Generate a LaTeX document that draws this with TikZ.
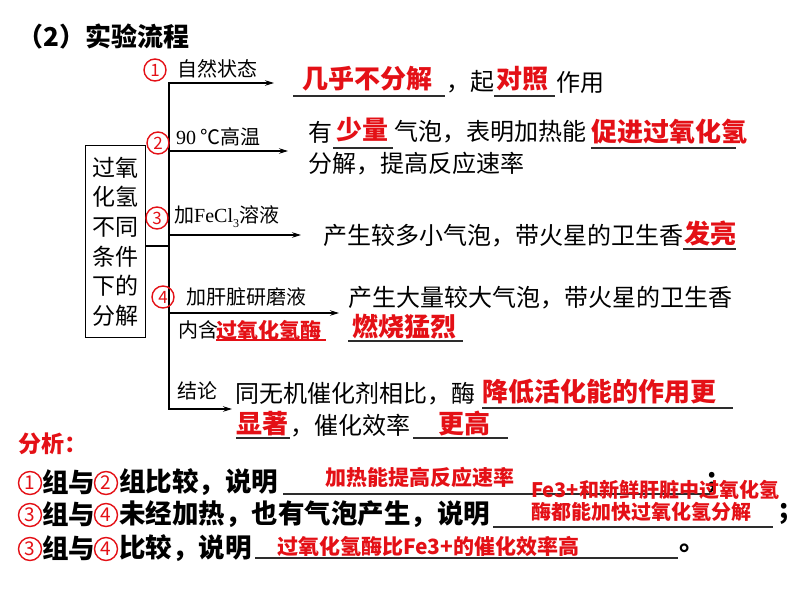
\documentclass[tikz,border=0pt]{standalone}
\usepackage{fontspec}
\setmainfont{Noto Sans CJK SC}
\newfontfamily\latser{Liberation Serif}
\usetikzlibrary{arrows.meta}
\definecolor{ansred}{RGB}{228,16,22}
\definecolor{ulgray}{RGB}{45,45,45}
\tikzset{
 txt/.style={inner sep=0pt, anchor=west, font=\fontsize{24}{28}\selectfont},
 lab/.style={inner sep=0pt, anchor=west, font=\fontsize{20}{24}\selectfont},
 ans/.style={inner sep=0pt, anchor=west, text=ansred, font=\fontsize{26}{30}\selectfont\bfseries},
 ans2/.style={inner sep=0pt, anchor=west, text=ansred, font=\fontsize{21}{25}\selectfont\bfseries},
 ans3/.style={inner sep=0pt, anchor=west, text=ansred, font=\fontsize{20}{24}\selectfont\bfseries},
 big/.style={inner sep=0pt, anchor=west, font=\fontsize{26.5}{30}\selectfont\bfseries},
 num/.style={circle, draw=ansred, line width=1.4pt, minimum size=22pt, inner sep=0pt,
             text=ansred, font=\fontsize{17}{17}\selectfont},
 anum/.style={num, minimum size=23pt, font=\fontsize{19}{19}\selectfont},
 ul/.style={draw=ulgray, line width=1.3pt},
 redul/.style={draw=ansred, line width=1.3pt},
 flow/.style={line width=1.1pt, -{Stealth[length=9pt,width=5.5pt]}},
}
\begin{document}
\begin{tikzpicture}[x=1pt,y=-1pt]
\fill[white] (0,0) rectangle (794,596);
\useasboundingbox (0,0) rectangle (794,596);

% title
\node[big, font=\fontsize{26}{30}\selectfont\bfseries] (title) at (17,37) {（2）实验流程};

% box
\node[draw, line width=1pt, minimum width=60pt, minimum height=191pt, inner sep=0pt,
      align=center, font=\fontsize{23}{29.6}\selectfont] (box) at (115,241.5)
      {过氧\\化氢\\不同\\条件\\下的\\分解};

% trunk and branches
\coordinate (ctop) at (169,83);
\coordinate (cbot) at (169,409);
\coordinate (cbox) at (169,246);
\coordinate (c2) at (169,151);
\coordinate (c3) at (169,235);
\coordinate (c4) at (169,313);
\coordinate (a1e) at (274,83);
\coordinate (a2e) at (288,151);
\coordinate (a3e) at (301,235);
\coordinate (a4e) at (339,313);
\coordinate (a5e) at (232,409);
\draw[line width=1.1pt] (box.east |- cbox) -- (cbox);
\draw[flow] (cbot) -- (ctop) -- (a1e);
\draw[flow] (ctop) -- (cbot) -- (a5e);
\draw[flow] (c2) -- (a2e);
\draw[flow] (c3) -- (a3e);
\draw[flow] (c4) -- (a4e);

% branch labels
\node[num] (n1) at (155,70) {1};
\node[lab] (l1) at (177,69) {自然状态};
\node[num] (n2) at (158,143) {2};
\node[lab] (l2) at (176,137) {{\latser 90} ℃高温};
\node[num] (n3) at (157,218) {3};
\node[lab] (l3) at (174,217) {加{\latser FeCl}\raisebox{-0.25em}{\fontsize{12}{12}\selectfont\latser 3}溶液};
\node[num] (n4) at (163,297) {4};
\node[lab] (l4) at (186,297) {加肝脏研磨液};
\node[lab] (l4b) at (178,330) {内含};
\node[ans2] (l4c) at (216,330) {过氧化氢酶};
\draw[redul] (216,340) -- (326,340);
\node[lab] (l5) at (177,391) {结论};

% row 1
\node[ans] (r1a) at (302,79) {几乎不分解};
\draw[ul] (293,96) -- (445,96);
\node[txt] (r1b) at (446,82) {，起};
\node[ans] (r1c) at (496,79) {对照};
\draw[ul] (494,96) -- (555,96);
\node[txt] (r1d) at (556,82) {作用};

% row 2
\node[txt] (r2a) at (308,132) {有};
\node[ans] (r2b) at (336,130) {少量};
\draw[ul] (333,148) -- (393,148);
\node[txt] (r2c) at (394,132) {气泡，表明加热能};
\node[ans] (r2d) at (591,132) {促进过氧化氢};
\draw[ul] (591,148) -- (736,148);
\node[txt] (r2e) at (308,164) {分解，提高反应速率};

% row 3
\node[txt] (r3a) at (323,236) {产生较多小气泡，带火星的卫生香};
\node[ans] (r3b) at (684,233) {发亮};
\draw[ul] (683,249) -- (736,249);

% row 4
\node[txt] (r4a) at (348,298) {产生大量较大气泡，带火星的卫生香};
\node[ans] (r4b) at (352,327) {燃烧猛烈};
\draw[ul] (348,341) -- (463,341);

% row 5
\node[txt] (r5a) at (235,394) {同无机催化剂相比，酶};
\node[ans] (r5b) at (482,392) {降低活化能的作用更};
\draw[ul] (482,408) -- (733,408);
\node[ans] (r5c) at (236,424) {显著};
\draw[ul] (236,438) -- (290,438);
\node[txt] (r5d) at (290,426) {，催化效率};
\draw[ul] (413,438) -- (508,438);
\node[ans] (r5e) at (438,424) {更高};

% analysis
\node[inner sep=0pt, anchor=west, text=ansred, font=\fontsize{23}{26}\selectfont\bfseries] (an) at (18,444) {分析：};

\node[anum] (q1n1) at (30,483) {1};
\node[big] (q1a) at (42,482) {组与};
\node[anum] (q1n2) at (106,483) {2};
\node[big] (q1b) at (119,482) {组比较，说明};
\draw[ul] (283,494) -- (713,494);
\node[big] (q1s) at (707,483) {;};
\node[ans2] (a1) at (325,477) {加热能提高反应速率};
\node[ans3] (a2) at (531,490) {Fe3+和新鲜肝脏中过氧化氢};
\node[ans3] (a3) at (531,512) {酶都能加快过氧化氢分解};

\node[anum] (q2n3) at (30,515) {3};
\node[big] (q2a) at (42,514) {组与};
\node[anum] (q2n4) at (106,515) {4};
\node[big] (q2b) at (119,514) {未经加热，也有气泡产生，说明};
\draw[ul] (493,527) -- (773,527);
\node[big] (q2s) at (779,514) {;};

\node[anum] (q3n3) at (30,549) {3};
\node[big] (q3a) at (42,548) {组与};
\node[anum] (q3n4) at (106,549) {4};
\node[big] (q3b) at (119,548) {比较，说明};
\draw[ul] (255,558) -- (678,558);
\node[big] (q3s) at (679,548) {\makebox[13pt][l]{。}};
\node[ans2] (a4) at (277,546) {过氧化氢酶比Fe3+的催化效率高};
\end{tikzpicture}
\end{document}
